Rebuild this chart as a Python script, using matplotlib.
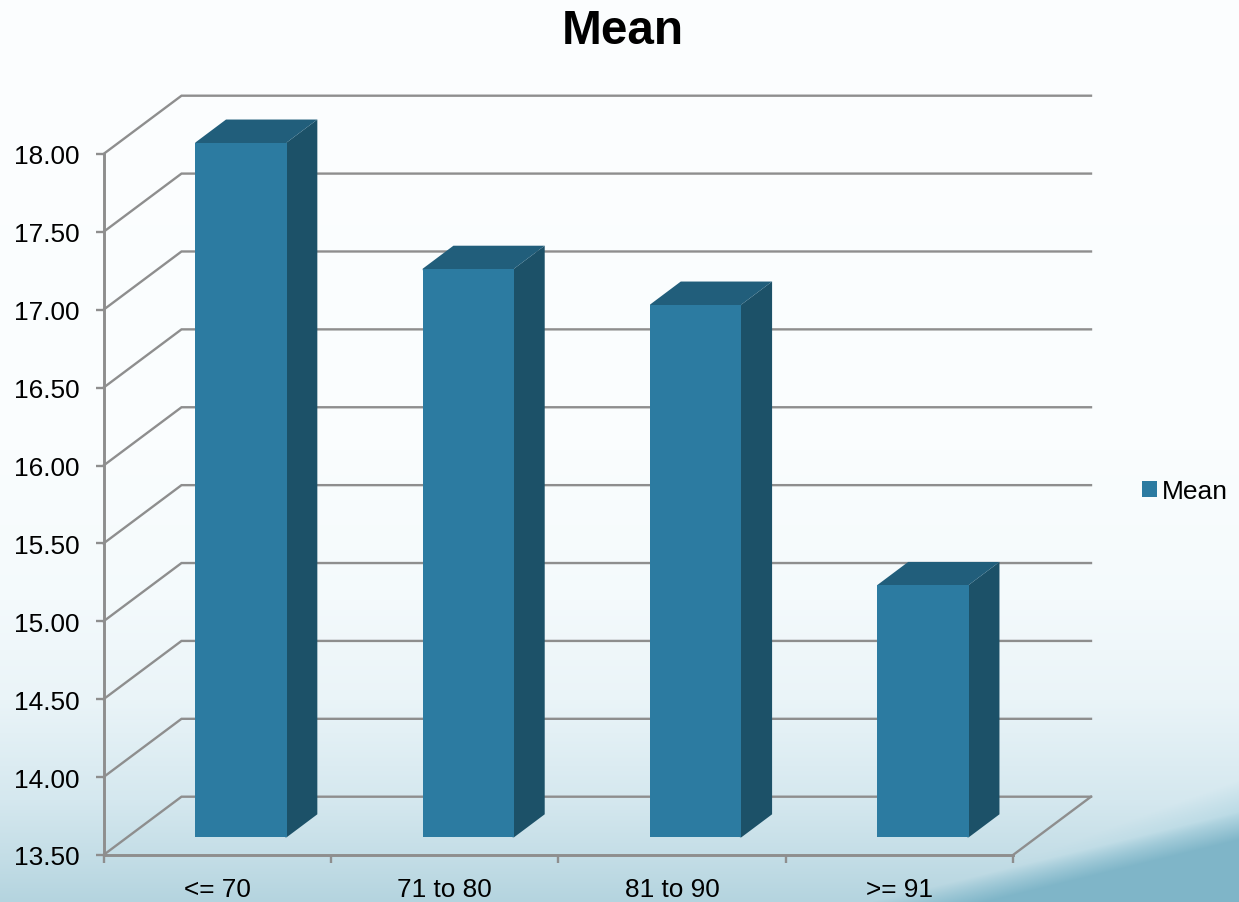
import numpy as np
import matplotlib
matplotlib.use("Agg")
import matplotlib.pyplot as plt
from matplotlib.patches import Polygon

plt.rcParams['font.family'] = ['Liberation Sans', 'DejaVu Sans']

# Chart data
categories = ["<= 70", "71 to 80", "81 to 90", ">= 91"]
means = [17.96, 17.15, 16.92, 15.12]
y_ticks = [13.5, 14.0, 14.5, 15.0, 15.5, 16.0, 16.5, 17.0, 17.5, 18.0]
series_name = "Mean"

W, H = 1239, 903
fig = plt.figure(figsize=(W / 100, H / 100), dpi=100)

# Slide-style backdrop: pale vertical gradient with a teal swoosh in the lower right
bg = fig.add_axes([0, 0, 1, 1], zorder=0)
yy, xx = np.mgrid[0:H, 0:W].astype(float)
stops_y = [0, 450, 600, 700, 800, 860, 903]
stops = np.array([[252, 254, 255], [250, 253, 254], [244, 250, 252], [234, 244, 248],
                  [213, 232, 239], [195, 221, 230], [180, 212, 223]], float)
img = np.dstack([np.interp(yy, stops_y, stops[:, c]) for c in range(3)])


def blend(image, edge, softness, colour, strength):
    a = np.clip((yy - edge) / softness, 0, 1)[..., None] * strength
    return image * (1 - a) + np.array(colour, float) * a


edge_light = 780 + (1239 - xx) * 0.37
edge_dark = 812 + (1239 - xx) * 0.245
img = blend(img, edge_light, 35, (178, 214, 226), 0.75)
img = blend(img, edge_dark, 28, (125, 180, 199), 0.95)
bg.imshow(img.astype(np.uint8), extent=(0, W, H, 0), aspect='auto', interpolation='bilinear')
bg.axis('off')

# Front plane of the chart box; the receding planes are offset from it in data units
left, right, bottom, top = 103.5, 1013, 856, 155
ax = fig.add_axes([left / W, 1 - bottom / H, (right - left) / W, (bottom - top) / H], zorder=1)
ax.patch.set_alpha(0)
ax.set_xlim(0, len(categories))
ax.set_ylim(13.5, 18.0)

px_x = len(categories) / (right - left)
px_y = 4.5 / (bottom - top)
depth_x, depth_y = 78 * px_x, 58.3 * px_y

GRID = '#8e8e8e'
LW = 1.7

# Back wall gridlines, side wall diagonals and the floor outline
for v in y_ticks:
    ax.plot([0, depth_x, len(categories) + depth_x], [v, v + depth_y, v + depth_y],
            color=GRID, lw=LW, clip_on=False, zorder=1, solid_joinstyle='miter')
ax.plot([len(categories), len(categories) + depth_x], [13.5, 13.5 + depth_y],
        color=GRID, lw=LW, clip_on=False, zorder=1)

# Extruded columns; side and cap run slightly under the front face to avoid a seam
FRONT, SIDE, CAP = '#2C7BA1', '#1C5168', '#215E7B'
bar_w = 91.3 * px_x
inset_x, inset_y = 23.8 * px_x, 17.7 * px_y
ext_x, ext_y = 30.7 * px_x, 23 * px_y
lap_x, lap_y = 1.5 * px_x, 1.5 * px_y
centers = np.arange(len(categories)) + 0.5 + inset_x
base = 13.5 + inset_y
heights = [m - 13.5 for m in means]
bars = ax.bar(centers, heights, width=bar_w, bottom=base, color=FRONT, linewidth=0,
              clip_on=False, zorder=3, label=series_name)
for c, h in zip(centers, heights):
    x0, x1 = c - bar_w / 2, c + bar_w / 2
    t = base + h
    ax.add_patch(Polygon([(x1 - lap_x, base), (x1, base), (x1 + ext_x, base + ext_y),
                          (x1 + ext_x, t + ext_y), (x1, t), (x1 - lap_x, t)],
                         closed=True, fc=SIDE, ec='none', clip_on=False, zorder=2.8))
    ax.add_patch(Polygon([(x0, t - lap_y), (x0, t), (x0 + ext_x, t + ext_y), (x1 + ext_x, t + ext_y),
                          (x1, t), (x1, t - lap_y)],
                         closed=True, fc=CAP, ec='none', clip_on=False, zorder=2.9))

# Axes, ticks and labels
for s in ('top', 'right'):
    ax.spines[s].set_visible(False)
for s in ('left', 'bottom'):
    ax.spines[s].set_color(GRID)
    ax.spines[s].set_linewidth(2.1)
    ax.spines[s].set_zorder(2)

ax.set_yticks(y_ticks)
ax.set_yticklabels([f"{v:.2f}" for v in y_ticks])
ax.tick_params(axis='y', length=6, width=1.7, color=GRID, pad=11.5, labelsize=18.9, labelcolor='black')
ax.set_xticks(np.arange(len(categories) + 1))
ax.set_xticklabels([])
ax.tick_params(axis='x', which='major', length=6, width=1.7, color=GRID)
ax.set_xticks(np.arange(len(categories)) + 0.5, minor=True)
ax.set_xticklabels(categories, minor=True)
ax.tick_params(axis='x', which='minor', length=0, pad=15.5, labelsize=18.9, labelcolor='black')

fig.text(622.5 / W, 1 - 31 / H, series_name, ha='center', va='center',
         fontsize=34.4, fontweight='bold', color='black', zorder=5)

leg = fig.legend(handles=[bars], labels=[series_name], loc='center left',
                 bbox_to_anchor=(1137 / W, 1 - 492 / H), frameon=False, fontsize=19,
                 handlelength=0.54, handleheight=0.54, handletextpad=0.2,
                 borderpad=0.2, borderaxespad=0)
leg.set_zorder(5)

fig.savefig("out.png", dpi=100)
